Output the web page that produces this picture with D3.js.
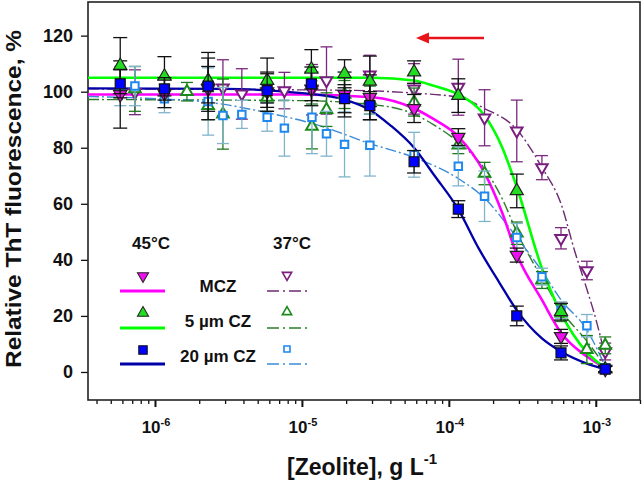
<!DOCTYPE html>
<html><head><meta charset="utf-8">
<script src="https://cdn.jsdelivr.net/npm/d3@7"></script>
<style>
body{margin:0;background:#fff}
svg{display:block}
text{font-family:"Liberation Sans",Arial,sans-serif;font-weight:bold;fill:#111}
</style>
</head><body>
<svg id="c" width="644" height="487"></svg>
<script>
// ---------- data ----------
// 45 °C series (shared concentrations, g/L)
const x45 = [5.8e-7,1.16e-6,2.3e-6,5.8e-6,1.16e-5,1.95e-5,2.9e-5,5.8e-5,1.16e-4,2.9e-4,5.8e-4,1.16e-3];
const mcz45    = [99,99.3,101,100,101,99,98,94,83.8,41.7,12.7,1];
const mcz45Err = [12,5,8,7,6,8,8,5,3,2.5,2.5,1];
const cz5_45    = [109.3,105.5,104,104,108,106.4,103.7,107,98.6,64.6,21.5,1];
const cz5_45Err = [10,7,8,8,7,5,9,4,6,6,3,1];
const cz20_45    = [102.8,101,102,100.4,102.8,97.5,95,75,58.1,20,6.8,1];
const cz20_45Err = [5,4,12,6,6,5,5,4,3,3.5,2.5,1];

// 37 °C series
const xMcz37 = [7.3e-7,2.9e-6,3.9e-6,7.6e-6,1.17e-5,1.47e-5,2.9e-5,5.8e-5,1.16e-4,1.75e-4,2.9e-4,4.3e-4,5.8e-4,8.7e-4,1.16e-3];
const mcz37    = [99.8,101.4,99.2,100.4,100.7,104,106,101,101.6,90.7,86,72.9,47.7,36.2,7.3];
const mcz37Err = [8,10,9,6.5,9,12,7,9,10,10,11,4.3,3.8,3.3,3];
const xCz5_37 = [7.3e-7,1.65e-6,2.3e-6,2.9e-6,5.8e-6,1.17e-5,1.47e-5,1.95e-5,2.9e-5,5.8e-5,1.16e-4,1.75e-4,2.9e-4,4.3e-4,5.8e-4,8.7e-4,1.16e-3];
const cz5_37    = [101,100,95,92,98,87.6,93.6,99,97,96.3,80.9,70.8,49.5,32.8,21,8,9.5];
const cz5_37Err = [8,3.3,5,12.5,5,8,6,5,5,5,3,4,4,3,3,5,3];
const xCz20_37 = [5.8e-7,7.3e-7,1.16e-6,2.3e-6,2.9e-6,3.9e-6,5.8e-6,7.6e-6,1.17e-5,1.47e-5,1.95e-5,2.9e-5,5.8e-5,1.16e-4,1.75e-4,2.9e-4,4.3e-4,5.8e-4,8.7e-4,1.16e-3];
const cz20_37    = [102,102,97.5,96.5,91.5,91.9,90.9,87,90.9,85,81.2,80.9,77.5,73.4,62.7,48,34,22,16.5,1.5];
const cz20_37Err = [7,7,5,12,10,5,5,10,13,8,11.6,11,8,7,9,5,3,3,4,1];

// fitted curves: [concentration, %]
const fitMcz45 = [[3.5e-7,99],[1e-5,99],[3e-5,98],[5.8e-5,94],[8e-5,90],[1.16e-4,84],[1.75e-4,71],[2.3e-4,57],[2.9e-4,42],[4.3e-4,25.7],[5.8e-4,14],[8.7e-4,5.5],[1.16e-3,1.5]];
const fitCz5_45 = [[3.5e-7,105],[3e-5,105],[5.8e-5,104],[8e-5,102],[1.16e-4,99],[1.75e-4,91.5],[2.3e-4,80.3],[2.9e-4,66],[4.3e-4,37],[5.8e-4,21],[8.7e-4,7],[1.16e-3,1.5]];
const fitCz20_45 = [[3.5e-7,101.2],[3e-6,101],[1e-5,99.5],[2e-5,97],[2.9e-5,93.5],[4e-5,88],[5.8e-5,80],[8e-5,70],[1.16e-4,58],[1.6e-4,44],[2.2e-4,32],[2.9e-4,22],[4.3e-4,12],[5.8e-4,7.3],[8.7e-4,3],[1.16e-3,1]];
const fitMcz37 = [[3.5e-7,101],[2e-5,100.5],[5.8e-5,99.5],[1.16e-4,98],[1.75e-4,94],[2.9e-4,86.5],[4.3e-4,73],[5.8e-4,60],[7.2e-4,43],[8.7e-4,29.5],[1e-3,19],[1.16e-3,5.5]];
const fitCz5_37 = [[3.5e-7,97.2],[1e-5,96.8],[2.9e-5,95.5],[5.8e-5,92],[8e-5,88],[1.16e-4,82],[1.75e-4,72.5],[2.3e-4,62],[2.9e-4,50],[4.3e-4,33.5],[5.8e-4,22],[8.7e-4,11],[1.16e-3,2]];
const fitCz20_37 = [[3.5e-7,98.3],[1e-6,97.5],[2.26e-6,96.3],[5.8e-6,92.5],[1.3e-5,88],[2.9e-5,81.5],[5.8e-5,76.5],[1.16e-4,69],[1.75e-4,62],[2.9e-4,48],[4.3e-4,36],[5.8e-4,25.7],[8.7e-4,15],[1.16e-3,2]];

// axis ticks / labels
const xMajor = [1e-6,1e-5,1e-4,1e-3];
const xMajorExp = ["-6","-5","-4","-3"];
const yTicks = [0,20,40,60,80,100,120];
const legendNames = ["MCZ","5 µm CZ","20 µm CZ"];
const legendTemps = ["45°C","37°C"];

// ---------- drawing ----------
const svg = d3.select("#c");
const L=88, R=640, T=2, B=400;
const x = d3.scaleLog().domain([3.5e-7,2e-3]).range([L,R]);
const y = d3.scaleLinear().domain([-10,132]).range([B,T]);

svg.append("defs").append("clipPath").attr("id","clip")
  .append("rect").attr("x",L).attr("y",T).attr("width",R-L).attr("height",B-T);

// axes
const minor=[];
[-7,-6,-5,-4,-3].forEach(d=>{for(let k=2;k<=9;k++){const v=k*Math.pow(10,d); if(v>=3.5e-7&&v<=2e-3) minor.push(v);}});
const gxMin = svg.append("g").attr("transform",`translate(0,${B})`)
  .call(d3.axisBottom(x).tickValues(minor).tickSize(4).tickFormat(""));
const gxMaj = svg.append("g").attr("transform",`translate(0,${B})`)
  .call(d3.axisBottom(x).tickValues(xMajor).tickSize(7).tickFormat(""));
[gxMin,gxMaj].forEach(g=>{g.select(".domain").remove(); g.selectAll("line").attr("stroke","#111").attr("stroke-width",1.3);});
gxMaj.selectAll("line").attr("stroke-width",2);

const xl = svg.append("g");
xMajor.forEach((v,i)=>{
  const t = xl.append("text").attr("x",x(v)+1).attr("y",433).attr("text-anchor","middle").style("font-size","17px");
  t.append("tspan").text("10");
  t.append("tspan").attr("dy",-7).style("font-size","11px").text(xMajorExp[i]);
});

const gy = svg.append("g").attr("transform",`translate(${L},0)`)
  .call(d3.axisLeft(y).tickValues(yTicks).tickSize(7).tickPadding(8));
gy.select(".domain").remove();
gy.selectAll("line").attr("stroke","#111").attr("stroke-width",1.3);
gy.selectAll("text").style("font-size","18px").style("font-family","Liberation Sans, Arial, sans-serif").style("font-weight","bold").attr("fill","#111");

svg.append("rect").attr("x",L).attr("y",T).attr("width",R-L).attr("height",B-T)
  .attr("fill","none").attr("stroke","#222").attr("stroke-width",1.6);

// titles
svg.append("text").attr("transform","translate(21,199) rotate(-90)").attr("text-anchor","middle")
  .style("font-size","22px").attr("textLength",338).attr("lengthAdjust","spacingAndGlyphs")
  .text("Relative ThT fluorescence, %");
const xt = svg.append("text").attr("x",287).attr("y",475).style("font-size","23px");
xt.append("tspan").text("[Zeolite], g L");
xt.append("tspan").attr("dy",-11).style("font-size","15px").text("-1");

// red arrow
svg.append("line").attr("x1",484).attr("x2",425).attr("y1",38).attr("y2",38).attr("stroke","#e8141a").attr("stroke-width",2.5);
svg.append("path").attr("d","M416,38 L429,32.5 L429,43.5 Z").attr("fill","#e8141a");

// series definitions
const series = [
  {xs:xMcz37, ys:mcz37, es:mcz37Err, fit:fitMcz37, line:"#6e2a72", bar:"#7a2a7e", mk:"tri-down", fill:"#fff", stroke:"#7a1e80", open:true},
  {xs:xCz5_37, ys:cz5_37, es:cz5_37Err, fit:fitCz5_37, line:"#2b7d2b", bar:"#1f7a1f", mk:"tri-up", fill:"#fff", stroke:"#1a8a1a", open:true},
  {xs:xCz20_37, ys:cz20_37, es:cz20_37Err, fit:fitCz20_37, line:"#3b8ad6", bar:"#80b4cc", mk:"sq", fill:"#fff", stroke:"#1e88ee", open:true},
  {xs:x45, ys:mcz45, es:mcz45Err, fit:fitMcz45, line:"#ff00ff", bar:"#111", mk:"tri-down", fill:"#ee10ee", stroke:"#222", open:false},
  {xs:x45, ys:cz5_45, es:cz5_45Err, fit:fitCz5_45, line:"#00ff00", bar:"#111", mk:"tri-up", fill:"#22dd22", stroke:"#222", open:false},
  {xs:x45, ys:cz20_45, es:cz20_45Err, fit:fitCz20_45, line:"#0000a8", bar:"#111", mk:"sq", fill:"#0000ff", stroke:"#111", open:false}
];

const line = d3.line().x(d=>x(d[0])).y(d=>y(d[1])).curve(d3.curveMonotoneX);
const plot = svg.append("g").attr("clip-path","url(#clip)");

function symPath(mk, open){
  if(mk==="sq") return d3.symbol().type(d3.symbolSquare).size(open?56:100)();
  return d3.symbol().type(d3.symbolTriangle).size(open?58:75)();
}
function drawMarker(g, s, cx, cy, scale){
  const rot = s.mk==="tri-down" ? " rotate(180)" : "";
  g.append("path").attr("d",symPath(s.mk,s.open))
    .attr("transform",`translate(${cx},${cy})${rot} scale(${scale||1})`)
    .attr("fill",s.fill).attr("stroke",s.stroke).attr("stroke-width",s.open?2:1.2);
}

// curves: 37 dash-dot first, then 45 solid
series.forEach(s=>{
  plot.append("path").datum(s.fit).attr("d",line).attr("fill","none")
    .attr("stroke",s.line).attr("stroke-width",s.open?1.4:(s.mk==="sq"?2.3:2.6))
    .attr("stroke-dasharray",s.open?"11,3,2,3":null);
});

// error bars and markers
series.forEach(s=>{
  const g = plot.append("g");
  const cw = s.open?6:7;
  s.xs.forEach((xv,i)=>{
    const cx=x(xv), y1=y(s.ys[i]+s.es[i]), y2=y(s.ys[i]-s.es[i]);
    g.append("line").attr("x1",cx).attr("x2",cx).attr("y1",y1).attr("y2",y2).attr("stroke",s.bar).attr("stroke-width",1.3);
    g.append("line").attr("x1",cx-cw).attr("x2",cx+cw).attr("y1",y1).attr("y2",y1).attr("stroke",s.bar).attr("stroke-width",1.3);
    g.append("line").attr("x1",cx-cw).attr("x2",cx+cw).attr("y1",y2).attr("y2",y2).attr("stroke",s.bar).attr("stroke-width",1.3);
  });
  s.xs.forEach((xv,i)=>drawMarker(g,s,x(xv),y(s.ys[i])));
});

// legend
const lg = svg.append("g");
lg.append("text").attr("x",151).attr("y",249).attr("text-anchor","middle").style("font-size","17px").text(legendTemps[0]);
lg.append("text").attr("x",292).attr("y",249).attr("text-anchor","middle").style("font-size","17px").text(legendTemps[1]);
const rowMk=[276,313,350], rowLn=[291,328,364], rowTx=[292,327,362];
legendNames.forEach((name,i)=>{
  const s45 = series[3+i], s37 = series[i];
  drawMarker(lg,s45,143,rowMk[i],0.85);
  lg.append("line").attr("x1",120).attr("x2",165).attr("y1",rowLn[i]).attr("y2",rowLn[i])
    .attr("stroke",s45.line).attr("stroke-width",3);
  lg.append("text").attr("x",218).attr("y",rowTx[i]).attr("text-anchor","middle").style("font-size","17px").text(name);
  drawMarker(lg,s37,287,rowMk[i]-1,0.8);
  lg.append("line").attr("x1",267).attr("x2",311).attr("y1",rowLn[i]).attr("y2",rowLn[i])
    .attr("stroke",s37.line).attr("stroke-width",1.4).attr("stroke-dasharray","12,4,2,4");
});
</script>
</body></html>
